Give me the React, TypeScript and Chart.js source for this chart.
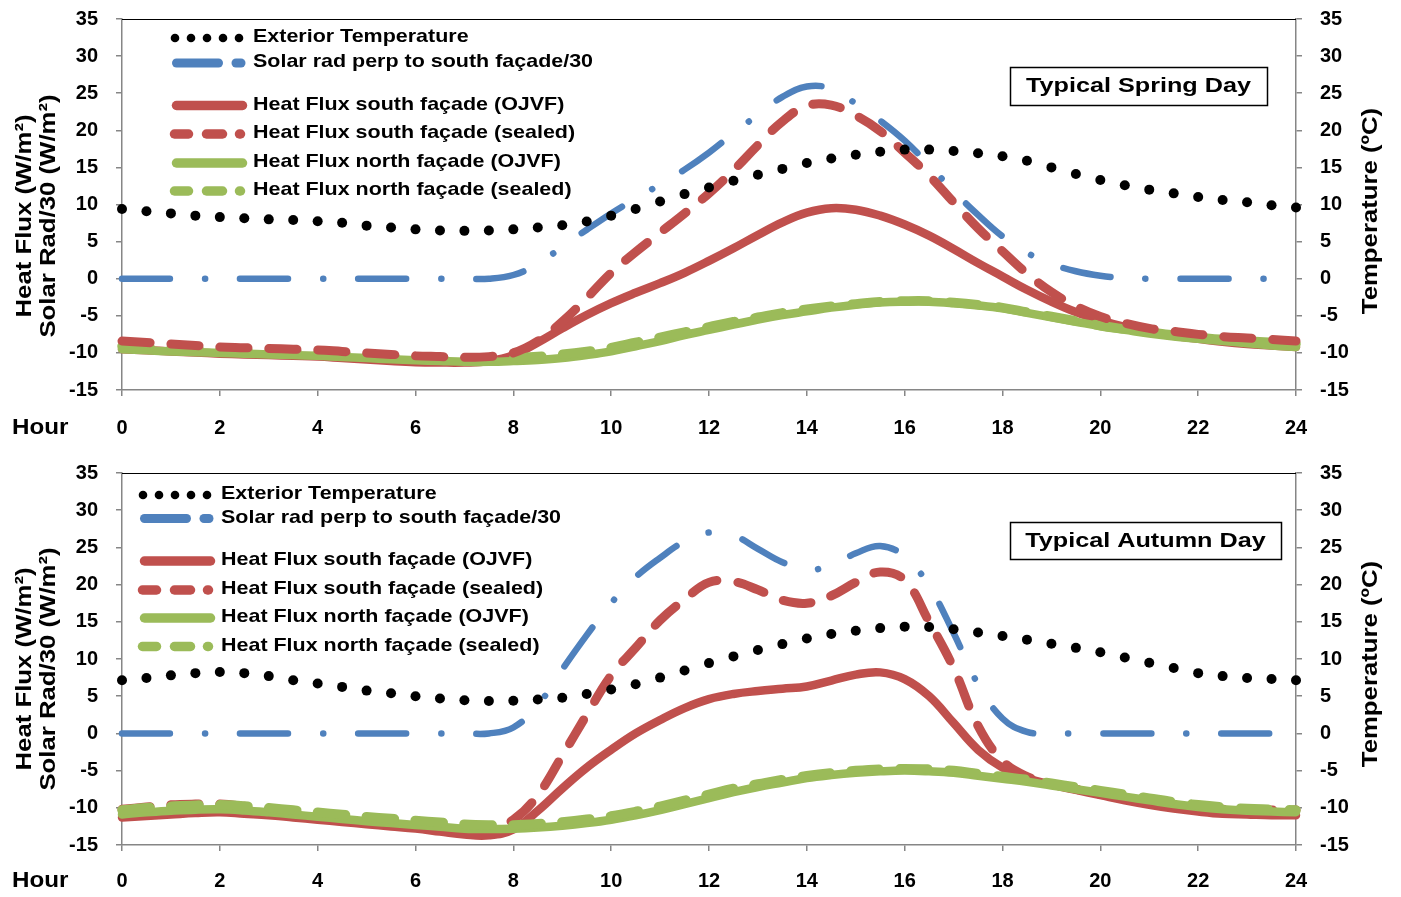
import React, { useEffect, useRef } from 'react';
import Chart from 'chart.js/auto';

// Hour of day, half-hour steps
const HOURS = [
  0, 0.5, 1, 1.5, 2, 2.5, 3, 3.5, 4, 4.5, 5, 5.5, 6, 6.5, 7, 7.5, 8,
  8.5, 9, 9.5, 10, 10.5, 11, 11.5, 12, 12.5, 13, 13.5, 14, 14.5, 15, 15.5, 16,
  16.5, 17, 17.5, 18, 18.5, 19, 19.5, 20, 20.5, 21, 21.5, 22, 22.5, 23, 23.5, 24,
];

const SERIES_LABELS = [
  'Exterior Temperature',
  'Solar rad perp to south façade/30',
  'Heat Flux south façade (OJVF)',
  'Heat Flux south façade (sealed)',
  'Heat Flux north façade (OJVF)',
  'Heat Flux north façade (sealed)',
];

const AXIS_TICKS_Y = { min: -15, max: 35, step: 5 };
const AXIS_TICKS_X = { min: 0, max: 24, step: 2 };

// ---- Typical spring day ----
const SPRING_TEMP = [
  9.4, 9.1, 8.8, 8.5, 8.3, 8.15, 8.0, 7.9, 7.75, 7.55, 7.15, 6.9, 6.65, 6.5, 6.45, 6.5, 6.65,
  6.9, 7.2, 7.7, 8.5, 9.4, 10.4, 11.4, 12.3, 13.2, 14.0, 14.8, 15.6, 16.2, 16.7, 17.1, 17.4,
  17.4, 17.2, 16.9, 16.5, 15.9, 15.0, 14.1, 13.3, 12.6, 12.0, 11.5, 11.0, 10.6, 10.3, 9.9, 9.6,
];
const SPRING_SOLAR = [
  0, 0, 0, 0, 0, 0, 0, 0, 0, 0, 0, 0, 0, 0, 0, 0, 0.5,
  2.0, 4.3, 6.6, 8.8, 10.8, 12.7, 14.7, 17.0, 19.6, 22.1, 24.5, 25.9, 25.6, 23.6, 21.3, 18.6,
  15.3, 11.8, 8.6, 5.7, 3.5, 2.0, 1.0, 0.4, 0.1, 0, 0, 0, 0, 0, 0, 0,
];
const SPRING_SOUTH_OJVF = [
  -9.5, -9.65, -9.8, -9.95, -10.1, -10.2, -10.3, -10.4, -10.5, -10.7, -10.9, -11.1, -11.25, -11.3, -11.3, -11.1, -10.3,
  -8.6, -6.7, -4.9, -3.3, -1.9, -0.6, 0.8, 2.4, 4.1, 5.9, 7.6, 8.9, 9.5, 9.3, 8.5, 7.3,
  5.8, 4.0, 2.1, 0.3, -1.5, -3.1, -4.5, -5.6, -6.5, -7.2, -7.7, -8.1, -8.5, -8.8, -9.0, -9.2,
];
const SPRING_SOUTH_SEALED = [
  -8.4, -8.6, -8.8, -9.0, -9.2, -9.3, -9.4, -9.5, -9.6, -9.8, -10.0, -10.2, -10.4, -10.5, -10.6, -10.5, -10.0,
  -8.4, -5.8, -2.6, 0.8, 3.6, 6.2, 8.8, 11.5, 14.6, 18.0, 21.2, 23.3, 23.4, 22.0, 19.9, 17.0,
  13.9, 10.3, 6.8, 3.7, 0.7, -1.8, -3.7, -5.1, -6.0, -6.7, -7.1, -7.5, -7.8, -8.0, -8.2, -8.4,
];
const SPRING_NORTH_OJVF = [
  -9.5, -9.65, -9.8, -9.9, -10.0, -10.1, -10.2, -10.3, -10.4, -10.55, -10.7, -10.85, -11.0, -11.1, -11.2, -11.2, -11.1,
  -10.95, -10.7, -10.3, -9.8, -9.1, -8.4, -7.6, -6.9, -6.2, -5.5, -4.9, -4.4, -3.9, -3.5, -3.2, -3.1,
  -3.1, -3.3, -3.6, -4.0, -4.6, -5.2, -5.8, -6.4, -6.9, -7.4, -7.8, -8.1, -8.4, -8.7, -9.0, -9.2,
];
const SPRING_NORTH_SEALED = [
  -9.1, -9.25, -9.4, -9.5, -9.6, -9.7, -9.8, -9.9, -10.0, -10.15, -10.3, -10.45, -10.6, -10.7, -10.8, -10.8, -10.7,
  -10.5, -10.2, -9.8, -9.3, -8.6, -7.9, -7.2, -6.5, -5.8, -5.2, -4.6, -4.1, -3.7, -3.4, -3.1, -3.0,
  -3.0, -3.2, -3.5, -3.9, -4.5, -5.1, -5.7, -6.3, -6.8, -7.2, -7.6, -7.9, -8.2, -8.4, -8.6, -8.8,
];

// ---- Typical autumn day ----
const AUTUMN_TEMP = [
  7.15, 7.45, 7.8, 8.1, 8.25, 8.1, 7.7, 7.15, 6.7, 6.25, 5.75, 5.4, 5.0, 4.7, 4.45, 4.35, 4.4,
  4.55, 4.8, 5.3, 5.9, 6.6, 7.5, 8.45, 9.45, 10.35, 11.2, 12.0, 12.75, 13.35, 13.8, 14.15, 14.35,
  14.3, 14.0, 13.55, 13.1, 12.6, 12.05, 11.5, 10.9, 10.2, 9.5, 8.8, 8.1, 7.7, 7.45, 7.3, 7.15,
];
const AUTUMN_SOLAR = [
  0, 0, 0, 0, 0, 0, 0, 0, 0, 0, 0, 0, 0, 0, 0, 0, 0.8,
  3.8, 8.6, 13.2, 17.5, 21.0, 23.6, 25.8, 27.0, 26.6, 24.8, 23.0, 22.0, 22.6, 24.2, 25.2, 23.8,
  19.8, 13.5, 6.6, 2.0, 0.2, 0, 0, 0, 0, 0, 0, 0, 0, 0, 0, 0,
];
const AUTUMN_SOUTH_OJVF = [
  -11.3, -11.1, -10.9, -10.7, -10.6, -10.8, -11.0, -11.3, -11.6, -11.9, -12.2, -12.5, -12.8, -13.2, -13.6, -13.7, -12.9,
  -10.4, -7.4, -4.6, -2.2, 0.0, 1.8, 3.4, 4.6, 5.3, 5.7, 6.0, 6.3, 7.1, 7.9, 8.2, 7.3,
  5.0, 1.4, -2.2, -4.6, -6.0, -6.9, -7.6, -8.3, -9.0, -9.6, -10.1, -10.5, -10.8, -10.9, -11.0, -11.0,
];
const AUTUMN_SOUTH_SEALED = [
  -10.2, -9.9, -9.6, -9.5, -9.5, -9.8, -10.2, -10.6, -11.0, -11.3, -11.6, -11.9, -12.2, -12.5, -12.7, -12.8, -11.6,
  -8.3, -3.0, 2.5, 7.8, 11.5, 15.2, 18.0, 20.3, 20.4, 19.3, 17.9, 17.5, 18.5, 20.3, 21.7, 20.6,
  15.0, 8.8, 1.0, -3.7, -5.8, -6.8, -7.5, -8.2, -8.8, -9.4, -9.8, -10.1, -10.2, -10.3, -10.3, -10.3,
];
const AUTUMN_NORTH_OJVF = [
  -10.9, -10.6, -10.4, -10.25, -10.2, -10.35, -10.6, -10.9, -11.2, -11.5, -11.8, -12.05, -12.3, -12.55, -12.8, -12.85, -12.8,
  -12.65, -12.4, -12.05, -11.6, -11.0, -10.3, -9.5, -8.7, -7.9, -7.2, -6.6, -6.0, -5.6, -5.3, -5.1, -5.0,
  -5.1, -5.3, -5.7, -6.1, -6.5, -7.0, -7.5, -8.0, -8.5, -9.0, -9.5, -9.9, -10.2, -10.4, -10.5, -10.6,
];
const AUTUMN_NORTH_SEALED = [
  -10.3, -10.0, -9.8, -9.65, -9.6, -9.75, -10.0, -10.3, -10.6, -10.9, -11.2, -11.45, -11.7, -11.95, -12.2, -12.3, -12.3,
  -12.15, -11.9, -11.55, -11.1, -10.5, -9.8, -9.0, -8.2, -7.4, -6.8, -6.2, -5.7, -5.3, -5.0, -4.8, -4.75,
  -4.8, -5.0, -5.4, -5.8, -6.2, -6.7, -7.2, -7.7, -8.2, -8.7, -9.2, -9.6, -9.9, -10.1, -10.2, -10.3,
];

const FONT = "'Liberation Sans', Arial, Helvetica, sans-serif";
const BLUE = '#4F81BD';
const RED = '#C0504D';
const GREEN = '#9BBB59';
const AXIS_GREY = '#868686';

const pts = (vals: number[]) => HOURS.map((h, i) => ({ x: h, y: vals[i] }));

type PanelSpec = {
  name: string;
  title: string;
  temp: number[];
  solar: number[];
  southOjvf: number[];
  southSealed: number[];
  northOjvf: number[];
  northSealed: number[];
  // draw order (lower = drawn on top)
  order: { temp: number; solar: number; so: number; ss: number; no: number; ns: number };
  canvasTop: number;
  canvasHeight: number;
  padTop: number;
  axisHeight: number;
  tickPad: number;
  legendX: number;
  legendY: number[];
  box: { x: number; y: number; w: number; h: number };
  leftTitleY: number;
  rightTitleY: number;
  hourY: number;
};

const PANELS: PanelSpec[] = [
  {
    name: 'spring',
    title: 'Typical Spring Day',
    temp: SPRING_TEMP,
    solar: SPRING_SOLAR,
    southOjvf: SPRING_SOUTH_OJVF,
    southSealed: SPRING_SOUTH_SEALED,
    northOjvf: SPRING_NORTH_OJVF,
    northSealed: SPRING_NORTH_SEALED,
    order: { temp: 0, ss: 1, ns: 2, no: 3, so: 4, solar: 5 },
    canvasTop: 0,
    canvasHeight: 450,
    padTop: 19,
    axisHeight: 60,
    tickPad: 20,
    legendX: 172,
    legendY: [37, 62, 104.5, 133, 162, 190],
    box: { x: 1010, y: 67, w: 257, h: 38 },
    leftTitleY: 216,
    rightTitleY: 211,
    hourY: 428,
  },
  {
    name: 'autumn',
    title: 'Typical Autumn Day',
    temp: AUTUMN_TEMP,
    solar: AUTUMN_SOLAR,
    southOjvf: AUTUMN_SOUTH_OJVF,
    southSealed: AUTUMN_SOUTH_SEALED,
    northOjvf: AUTUMN_NORTH_OJVF,
    northSealed: AUTUMN_NORTH_SEALED,
    order: { temp: 0, ns: 1, no: 2, ss: 3, so: 4, solar: 5 },
    canvasTop: 450,
    canvasHeight: 447,
    padTop: 23,
    axisHeight: 52,
    tickPad: 18,
    legendX: 140,
    legendY: [44, 67.5, 110, 139, 167, 195.5],
    box: { x: 1010, y: 72, w: 271, h: 37 },
    leftTitleY: 219,
    rightTitleY: 214,
    hourY: 431,
  },
];

function drawText(
  ctx: CanvasRenderingContext2D,
  text: string,
  x: number,
  y: number,
  size: number,
  align: CanvasTextAlign,
  baseline: CanvasTextBaseline,
  stretch: number,
  rotate = 0,
) {
  ctx.save();
  ctx.translate(x, y);
  if (rotate) ctx.rotate(rotate);
  ctx.scale(stretch, 1);
  ctx.font = `bold ${size}px ${FONT}`;
  ctx.textAlign = align;
  ctx.textBaseline = baseline;
  ctx.fillStyle = '#000';
  ctx.fillText(text, 0, 0);
  ctx.restore();
}

function seg(ctx: CanvasRenderingContext2D, x1: number, x2: number, y: number, color: string, w: number) {
  ctx.beginPath();
  ctx.strokeStyle = color;
  ctx.lineWidth = w;
  ctx.lineCap = 'round';
  ctx.moveTo(x1, y);
  ctx.lineTo(x2, y);
  ctx.stroke();
}

function makeDecorations(p: PanelSpec) {
  return {
    id: `decor-${p.name}`,
    afterDraw(chart: any) {
      const ctx: CanvasRenderingContext2D = chart.ctx;
      const area = chart.chartArea;
      ctx.save();

      // dark upper edge of plot area
      ctx.beginPath();
      ctx.strokeStyle = '#000';
      ctx.lineWidth = 1.2;
      ctx.moveTo(area.left, area.top + 0.5);
      ctx.lineTo(area.right, area.top + 0.5);
      ctx.stroke();

      // legend
      const x0 = p.legendX;
      const textX = x0 + 81;
      p.legendY.forEach((y, i) => {
        if (i === 0) {
          ctx.fillStyle = '#000';
          [3, 19, 35, 51, 67].forEach((dx) => {
            ctx.beginPath();
            ctx.arc(x0 + dx, y + 1, 4.3, 0, Math.PI * 2);
            ctx.fill();
          });
        } else if (i === 1) {
          seg(ctx, x0 + 4.5, x0 + 46.5, y + 1, BLUE, 9);
          seg(ctx, x0 + 64, x0 + 69, y + 1, BLUE, 9);
        } else {
          const col = i <= 3 ? RED : GREEN;
          if (i % 2 === 0) {
            seg(ctx, x0 + 4.5, x0 + 70.5, y + 1, col, 9.5);
          } else {
            seg(ctx, x0 + 2.5, x0 + 16.5, y + 1, col, 9.5);
            seg(ctx, x0 + 34.5, x0 + 50.5, y + 1, col, 9.5);
            seg(ctx, x0 + 67.5, x0 + 68.5, y + 1, col, 9.5);
          }
        }
        drawText(ctx, SERIES_LABELS[i], textX, y, 19, 'left', 'middle', 1.13);
      });

      // panel title box
      const b = p.box;
      ctx.fillStyle = '#fff';
      ctx.fillRect(b.x, b.y, b.w, b.h);
      ctx.strokeStyle = '#000';
      ctx.lineWidth = 1.5;
      ctx.strokeRect(b.x + 0.5, b.y + 0.5, b.w, b.h);
      drawText(ctx, p.title, b.x + b.w / 2, b.y + b.h / 2 + 0.5, 21, 'center', 'middle', 1.2);

      // axis titles
      const up = -Math.PI / 2;
      drawText(ctx, 'Heat Flux (W/m²)', 31, p.leftTitleY, 22, 'center', 'alphabetic', 1.17, up);
      drawText(ctx, 'Solar Rad/30 (W/m²)', 55, p.leftTitleY, 22, 'center', 'alphabetic', 1.17, up);
      drawText(ctx, 'Temperature (ºC)', 1377, p.rightTitleY, 22, 'center', 'alphabetic', 1.17, up);
      drawText(ctx, 'Hour', 12, p.hourY, 22, 'left', 'middle', 1.1);

      ctx.restore();
    },
  };
}

function buildConfig(p: PanelSpec): any {
  const tickFont = { family: FONT, size: 20, weight: 'bold' as const };
  const grid = {
    drawOnChartArea: false,
    drawTicks: true,
    tickLength: 6,
    color: AXIS_GREY,
    lineWidth: 1.5,
  };
  const border = { display: true, color: AXIS_GREY, width: 1.5 };
  const line = (data: number[], color: string, width: number, dash: number[], order: number) => ({
    data: pts(data),
    borderColor: color,
    backgroundColor: color,
    borderWidth: width,
    borderDash: dash,
    borderCapStyle: 'round',
    borderJoinStyle: 'round',
    pointRadius: 0,
    tension: 0.4,
    fill: false,
    clip: false,
    yAxisID: 'y',
    order,
  });
  // vertical axes: fixed width, and no extra top/bottom reserve for end labels
  const fixVertical = (width: number) => (s: any) => {
    s.width = width;
    s.paddingTop = 0;
    s.paddingBottom = 0;
  };

  return {
    type: 'line',
    data: {
      datasets: [
        {
          label: SERIES_LABELS[0],
          data: pts(p.temp),
          showLine: false,
          pointRadius: 5,
          pointBackgroundColor: '#000',
          pointBorderWidth: 0,
          borderColor: '#000',
          clip: false,
          yAxisID: 'y2',
          order: p.order.temp,
        },
        { label: SERIES_LABELS[1], ...line(p.solar, BLUE, 6.5, [48, 35, 0.1, 35], p.order.solar) },
        { label: SERIES_LABELS[2], ...line(p.southOjvf, RED, 8.5, [], p.order.so) },
        { label: SERIES_LABELS[3], ...line(p.southSealed, RED, 9, [28, 21], p.order.ss) },
        { label: SERIES_LABELS[4], ...line(p.northOjvf, GREEN, 8.5, [], p.order.no) },
        { label: SERIES_LABELS[5], ...line(p.northSealed, GREEN, 9.5, [28, 21], p.order.ns) },
      ],
    },
    options: {
      animation: false,
      responsive: false,
      maintainAspectRatio: false,
      devicePixelRatio: 1,
      events: [],
      layout: { padding: { top: p.padTop, left: 0, right: 0, bottom: 0 } },
      plugins: { legend: { display: false }, tooltip: { enabled: false }, title: { display: false } },
      scales: {
        x: {
          type: 'linear',
          position: 'bottom',
          min: AXIS_TICKS_X.min,
          max: AXIS_TICKS_X.max,
          ticks: {
            stepSize: AXIS_TICKS_X.step,
            padding: p.tickPad,
            font: tickFont,
            color: '#000',
            maxRotation: 0,
            autoSkip: false,
          },
          grid,
          border,
          afterFit: (s: any) => {
            s.height = p.axisHeight;
          },
        },
        y: {
          position: 'left',
          min: AXIS_TICKS_Y.min,
          max: AXIS_TICKS_Y.max,
          ticks: { stepSize: AXIS_TICKS_Y.step, padding: 18, font: tickFont, color: '#000' },
          grid,
          border,
          afterFit: fixVertical(122),
        },
        y2: {
          position: 'right',
          min: AXIS_TICKS_Y.min,
          max: AXIS_TICKS_Y.max,
          ticks: { stepSize: AXIS_TICKS_Y.step, padding: 18, font: tickFont, color: '#000' },
          grid,
          border,
          afterFit: fixVertical(105),
        },
      },
    },
    plugins: [makeDecorations(p)],
  };
}

function PanelChart({ spec }: { spec: PanelSpec }) {
  const ref = useRef<HTMLCanvasElement | null>(null);
  useEffect(() => {
    if (!ref.current) return;
    const chart = new Chart(ref.current, buildConfig(spec));
    return () => chart.destroy();
  }, [spec]);
  return (
    <canvas
      ref={ref}
      width={1401}
      height={spec.canvasHeight}
      style={{
        position: 'absolute',
        left: 0,
        top: spec.canvasTop,
        width: 1401,
        height: spec.canvasHeight,
        display: 'block',
      }}
    />
  );
}

export default function App() {
  return (
    <div style={{ position: 'absolute', left: 0, top: 0, width: 1401, height: 897, background: '#fff' }}>
      {PANELS.map((p) => (
        <PanelChart key={p.name} spec={p} />
      ))}
    </div>
  );
}
